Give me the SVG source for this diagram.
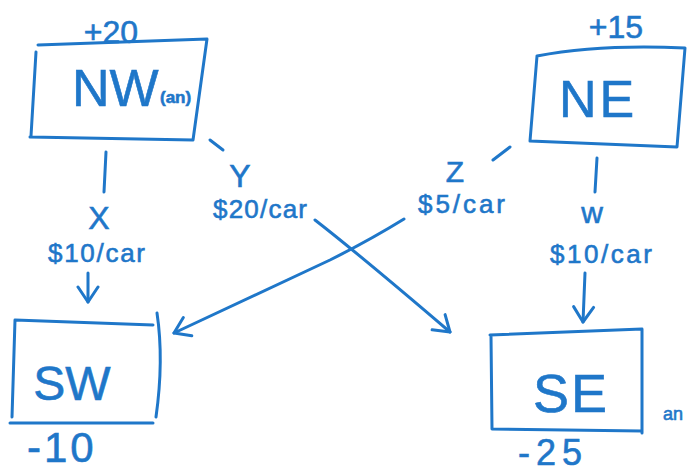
<svg xmlns="http://www.w3.org/2000/svg" width="687" height="474" viewBox="0 0 687 474">
<defs>
<style>
.ink{fill:none;stroke:#1f77c9;stroke-width:3;stroke-linecap:round;stroke-linejoin:round}
.t{fill:#1f77c9;stroke:#1f77c9;stroke-width:0.6;font-family:"Liberation Sans","Noto Sans",sans-serif}
.big{font-size:52px}
.lbl{font-size:26px}
.let{font-size:32px}
.num{font-size:32px}
</style>
<marker id="ah" markerUnits="userSpaceOnUse" markerWidth="22" markerHeight="26" refX="17" refY="12" orient="auto">
<path d="M2,2 L17,12 L2,22" fill="none" stroke="#1f77c9" stroke-width="3" stroke-linecap="round" stroke-linejoin="round"/>
</marker>
</defs>
<rect width="687" height="474" fill="#ffffff"/>

<g id="NW">
<path class="ink" d="M38,45 L207,39 L193,140 L30,137 M36,52 L31,136"/>
<text class="t num" x="111" y="43" text-anchor="middle">+20</text>
<text class="t big" x="72" y="106">NW</text>
<text class="t" x="160" y="103" font-size="17" font-weight="bold">(an)</text>
</g>

<g id="NE">
<path class="ink" d="M537,56 Q600,44 685,48 L677,147 L530,141 L537,56"/>
<text class="t num" x="616" y="38" text-anchor="middle">+15</text>
<text class="t big" x="598" y="117" text-anchor="middle" letter-spacing="3">NE</text>
</g>

<g id="SW">
<path class="ink" d="M15,320 L153,325 M15,320 L12,417 M10,423 L153,423 M157,313 Q164,360 156,417"/>
<text class="t" x="72" y="400" font-size="48" text-anchor="middle">SW</text>
<text class="t" x="27" y="462" font-size="42" letter-spacing="3">-10</text>
</g>

<g id="SE">
<path class="ink" d="M490,335 L642,329 L642,433 M491,336 L492,429 L642,431"/>
<text class="t" x="571" y="412" font-size="54" text-anchor="middle" letter-spacing="2">SE</text>
<text class="t" x="518" y="465" font-size="36" letter-spacing="6">-25</text>
<text class="t" x="663" y="420" font-size="18">an</text>
</g>

<g id="connectors">
<path class="ink" d="M106,152 L104,192"/>
<path class="ink" d="M88,273 L88,302" marker-end="url(#ah)"/>
<text class="t let" x="99" y="229" text-anchor="middle">X</text>
<text class="t lbl" x="48" y="262" textLength="97" lengthAdjust="spacing">$10/car</text>
<path class="ink" d="M210,140 L223,150"/>
<path class="ink" d="M315,220 Q360,255 450,332" marker-end="url(#ah)"/>
<text class="t let" x="240" y="187" text-anchor="middle">Y</text>
<text class="t lbl" x="213" y="218" textLength="94" lengthAdjust="spacing">$20/car</text>
<path class="ink" d="M493,160 L510,147"/>
<path class="ink" d="M404,219 Q370,240 330,260 L174,333" marker-end="url(#ah)"/>
<text class="t" x="455" y="182" font-size="30" text-anchor="middle">Z</text>
<text class="t lbl" x="418" y="213" textLength="87" lengthAdjust="spacing">$5/car</text>
<path class="ink" d="M597,158 L595,192"/>
<path class="ink" d="M585,273 L583,322" marker-end="url(#ah)"/>
<text class="t" x="592" y="223" font-size="30" text-anchor="middle">w</text>
<text class="t lbl" x="550" y="263" textLength="102" lengthAdjust="spacing">$10/car</text>
</g>
</svg>
